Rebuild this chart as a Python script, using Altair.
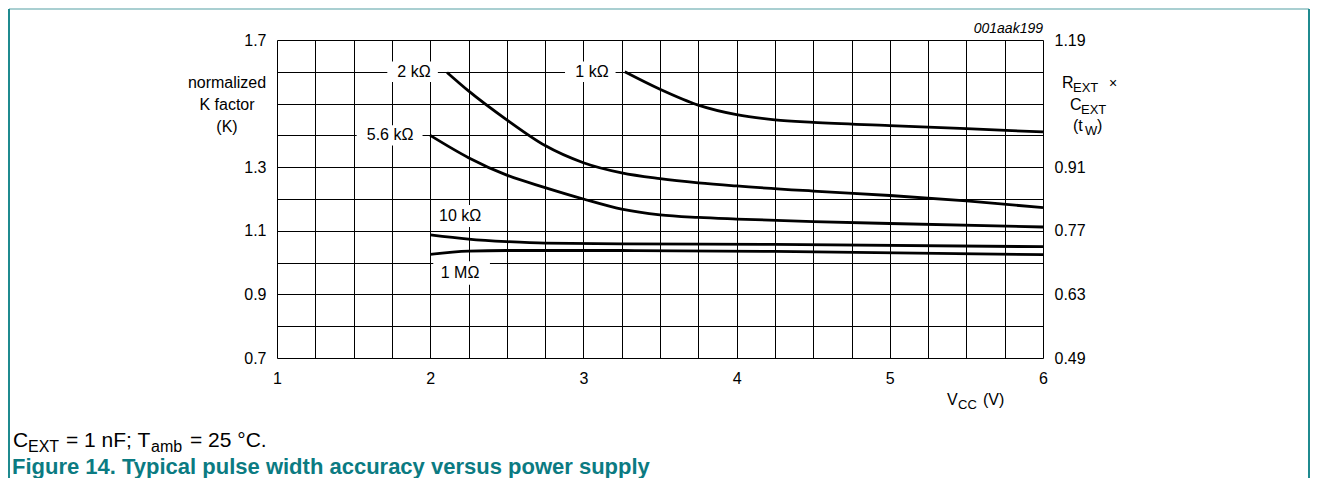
import altair as alt
import pandas as pd

# ---------------- data ----------------
v_1k = [3.27, 3.5, 3.75, 4.0, 4.25, 4.5, 5.0, 5.5, 6.0]
k_1k = [1.600, 1.545, 1.495, 1.465, 1.449, 1.441, 1.431, 1.421, 1.411]

v_2k = [2.11, 2.25, 2.5, 2.75, 3.0, 3.25, 3.5, 3.75, 4.0, 4.5, 5.0, 5.5, 6.0]
k_2k = [1.598, 1.540, 1.449, 1.368, 1.314, 1.282, 1.264, 1.251, 1.241, 1.225, 1.211, 1.194, 1.173]

v_5k6 = [2.0, 2.25, 2.5, 2.75, 3.0, 3.25, 3.5, 3.75, 4.0, 4.5, 5.0, 6.0]
k_5k6 = [1.400, 1.330, 1.275, 1.236, 1.200, 1.168, 1.150, 1.142, 1.137, 1.129, 1.123, 1.112]

v_10k = [2.0, 2.25, 2.5, 2.75, 3.25, 4.25, 6.0]
k_10k = [1.087, 1.074, 1.066, 1.061, 1.059, 1.057, 1.050]

v_1m = [2.0, 2.25, 2.5, 3.25, 4.25, 6.0]
k_1m = [1.026, 1.036, 1.038, 1.038, 1.035, 1.025]

series_names = ["1 kΩ", "2 kΩ", "5.6 kΩ", "10 kΩ", "1 MΩ"]
series_v = [v_1k, v_2k, v_5k6, v_10k, v_1m]
series_k = [k_1k, k_2k, k_5k6, k_10k, k_1m]

x_ticks = [1.0, 1.25, 1.5, 1.75, 2.0, 2.25, 2.5, 2.75, 3.0, 3.25, 3.5, 3.75,
           4.0, 4.25, 4.5, 4.75, 5.0, 5.25, 5.5, 5.75, 6.0]
y_ticks = [0.7, 0.8, 0.9, 1.0, 1.1, 1.2, 1.3, 1.4, 1.5, 1.6, 1.7]
y_labelled = ["0.7", "0.9", "1.1", "1.3", "1.7"]
right_factor = 0.7   # R_EXT x C_EXT axis = 0.7 * K

# curve labels (text, V, K) and the white boxes behind them (V1, V2, K1, K2)
lab_text = ["2 kΩ", "1 kΩ", "5.6 kΩ", "10 kΩ", "1 MΩ"]
lab_v = [1.894, 3.056, 1.738, 2.195, 2.195]
lab_k = [1.600, 1.600, 1.400, 1.147, 0.967]
box_v1 = [1.72, 2.88, 1.52, 2.02, 2.02]
box_v2 = [2.05, 3.21, 1.95, 2.39, 2.39]
box_k1 = [1.568, 1.568, 1.368, 1.112, 0.930]
box_k2 = [1.632, 1.632, 1.432, 1.181, 1.004]

# ---------------- tables ----------------
rows = []
for name, vs, ks in zip(series_names, series_v, series_k):
    for v, k in zip(vs, ks):
        rows.append({"series": name, "V": v, "K": k})
curves = pd.DataFrame(rows)
labels = pd.DataFrame({"text": lab_text, "V": lab_v, "K": lab_k})
boxes = pd.DataFrame({"v1": box_v1, "v2": box_v2, "k1": box_k1, "k2": box_k2})

FONT = "Liberation Sans"
W, H = 766, 318

xscale = alt.Scale(domain=[1, 6], nice=False, zero=False)
yscale = alt.Scale(domain=[0.7, 1.7], nice=False, zero=False)


def x_axis():
    return alt.Axis(orient="bottom", values=x_ticks, format=".2f",
                    labelExpr="datum.value % 1 == 0 ? format(datum.value, 'd') : ''",
                    grid=True, gridColor="#000000", gridWidth=1, gridOpacity=1,
                    ticks=False, domain=False, title=None, labelFont=FONT,
                    labelFontSize=16, labelColor="#000000", labelPadding=12,
                    labelFlush=False)


y_axis_left = alt.Axis(orient="left", values=y_ticks, format=".1f",
                       labelExpr="indexof(%s, datum.label) >= 0 ? datum.label : ''" % str(y_labelled),
                       grid=True, gridColor="#000000", gridWidth=1, gridOpacity=1,
                       ticks=False, domain=False, title=None, labelFont=FONT,
                       labelFontSize=16, labelColor="#000000", labelPadding=11,
                       labelFlush=False)
y_axis_right = alt.Axis(orient="right", values=y_ticks, format=".1f",
                        labelExpr="indexof(%s, datum.label) >= 0 ? format(datum.value * %s, '.2f') : ''" % (str(y_labelled), right_factor),
                        grid=False, ticks=False, domain=False, title=None, labelFont=FONT,
                        labelFontSize=16, labelColor="#000000", labelPadding=11,
                        labelFlush=False)

lines = alt.Chart(curves).mark_line(color="#000000", strokeWidth=2.8, interpolate="monotone").encode(
    x=alt.X("V:Q", scale=xscale, axis=x_axis()),
    y=alt.Y("K:Q", scale=yscale, axis=y_axis_left),
    detail="series:N",
)

box_layer = alt.Chart(boxes).mark_rect(color="#ffffff", opacity=1).encode(
    x=alt.X("v1:Q", scale=xscale, axis=x_axis()),
    x2="v2:Q",
    y=alt.Y("k1:Q", scale=yscale, axis=y_axis_right),
    y2="k2:Q",
)

label_layer = alt.Chart(labels).mark_text(font=FONT, fontSize=16, color="#000000",
                                          align="center", baseline="middle").encode(
    x=alt.X("V:Q", scale=xscale, axis=x_axis()),
    y=alt.Y("K:Q", scale=yscale, axis=None),
    text="text:N",
)

# ---------------- annotation texts (pixel positions relative to plot origin) ----------------
ann_text = ["R", "EXT", "×", "C", "EXT", "(t", "W", ")",
            "V", "CC", "(V)",
            "C", "EXT", "= 1 nF; T", "amb", "= 25 °C."]
ann_px = [785, 796, 832, 793, 804, 796, 808, 820,
          670, 681, 706,
          -264, -249, -211, -126, -87]
ann_py = [48, 52, 48, 70, 74, 91, 95, 91,
          365, 369, 365,
          407, 412, 407, 412, 407]
ann_fs = [16, 13, 14, 16, 13, 16, 13, 16,
          16, 13, 16,
          21, 16, 21, 16, 21]
ann = pd.DataFrame({"text": ann_text, "px": ann_px, "py": ann_py, "fs": ann_fs})

ann_layer = alt.Chart(ann).mark_text(font=FONT, color="#000000", align="left",
                                     baseline="alphabetic").encode(
    x=alt.X("px:Q", scale=None, axis=None),
    y=alt.Y("py:Q", scale=None, axis=None),
    size=alt.Size("fs:Q", scale=None, legend=None),
    text="text:N",
)

left_title = alt.Chart(pd.DataFrame({"t": ["normalized\nK factor\n(K)"]})).mark_text(
    font=FONT, fontSize=16, color="#000000", align="center", baseline="alphabetic",
    lineBreak="\n", lineHeight=22).encode(
    x=alt.value(-50), y=alt.value(48), text="t:N")

id_text = alt.Chart(pd.DataFrame({"t": ["001aak199"]})).mark_text(
    font=FONT, fontSize=14, fontStyle="italic", color="#000000", align="right",
    baseline="alphabetic").encode(x=alt.value(766), y=alt.value(-7), text="t:N")

fig_title = alt.Chart(pd.DataFrame({"t": ["Figure 14. Typical pulse width accuracy versus power supply"]})).mark_text(
    font=FONT, fontSize=22, fontWeight="bold", color="#0b7b82", align="left",
    baseline="alphabetic").encode(x=alt.value(-265), y=alt.value(434), text="t:N")

# page border (teal)
border_left = alt.Chart(pd.DataFrame({"a": [0]})).mark_rule(color="#1f8a8f", strokeWidth=2).encode(
    x=alt.value(-268), y=alt.value(-31), y2=alt.value(440))
border_right = alt.Chart(pd.DataFrame({"a": [0]})).mark_rule(color="#1f8a8f", strokeWidth=2).encode(
    x=alt.value(1032), y=alt.value(-31), y2=alt.value(440))
border_top = alt.Chart(pd.DataFrame({"a": [0]})).mark_rule(color="#a9cfd1", strokeWidth=2).encode(
    x=alt.value(-268), x2=alt.value(1032), y=alt.value(-31))

chart = alt.layer(
    box_layer, lines, label_layer, ann_layer, left_title, id_text, fig_title,
    border_top, border_left, border_right,
).properties(
    width=W, height=H,
    padding={"left": 269, "top": 32, "right": 268, "bottom": 120},
    autosize=alt.AutoSizeParams(type="none"),
).configure_view(
    stroke="#000000", strokeWidth=1
).configure(background="#ffffff")

chart.save("out.html", embed_options={"renderer": "svg", "actions": False})
